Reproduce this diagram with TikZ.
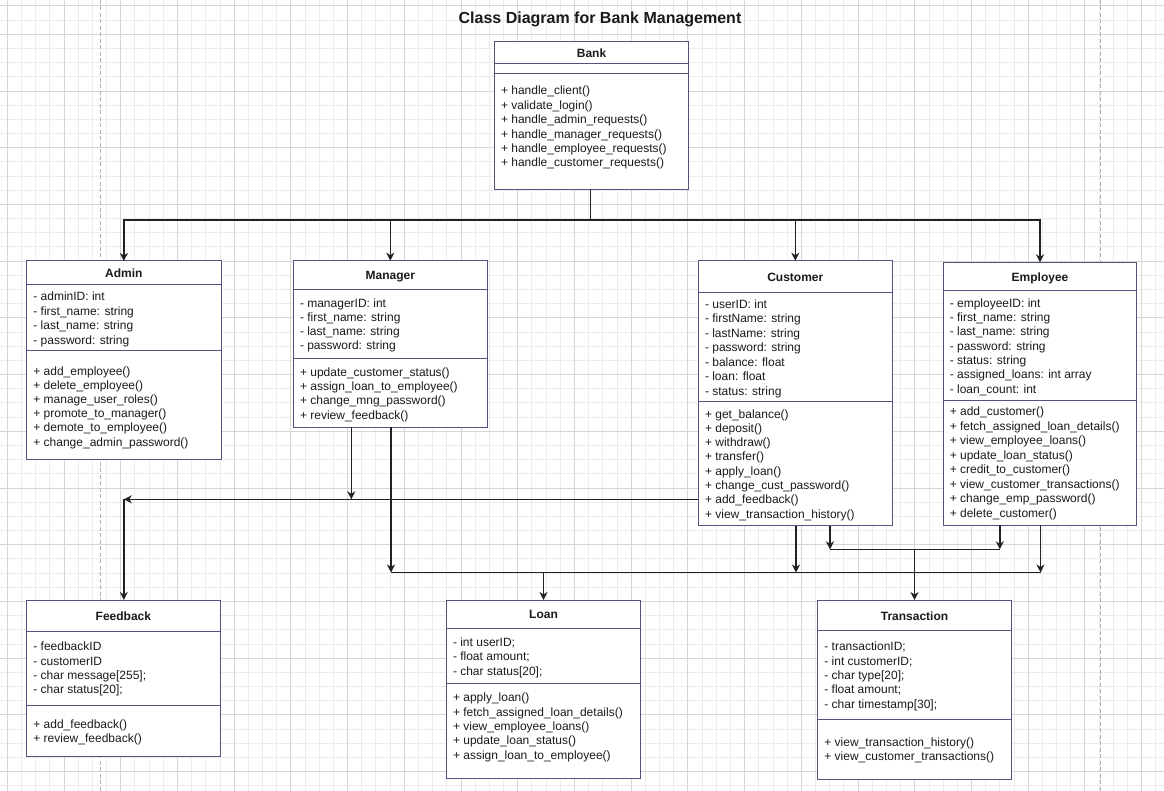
\documentclass[tikz,border=0pt]{standalone}
\usepackage{fontspec}
\setmainfont{Liberation Sans}
\usetikzlibrary{arrows.meta}
\definecolor{gridminor}{RGB}{236,236,236}
\definecolor{gridmajor}{RGB}{214,214,214}
\definecolor{pagedash}{RGB}{178,178,178}
\definecolor{clsborder}{RGB}{86,81,126}
\definecolor{txtcol}{RGB}{26,26,26}
\definecolor{conncol}{RGB}{34,34,34}
\tikzset{
  cls/.style={draw=clsborder, line width=1pt, fill=white, anchor=north west, inner sep=0pt, outer sep=0pt},
  clsline/.style={draw=clsborder, line width=1pt},
  txt/.style={anchor=base west, inner sep=0pt, text=txtcol, font=\fontsize{12pt}{14.4pt}\selectfont},
  ttl/.style={anchor=base, inner sep=0pt, text=txtcol, font=\fontsize{12pt}{14.4pt}\selectfont\bfseries},
  conn/.style={draw=conncol, line width=1.5pt, -{Stealth[length=8pt,width=8pt,inset=2.5pt]}},
  bus/.style={draw=conncol, line width=1.5pt},
}
\newcommand\clslines[5]{%
  \foreach \t [count=\i] in {#5} {\node[txt] (#1\i) at (#2,{#3+(\i-1)*#4}) {\t};}}
\begin{document}
\begin{tikzpicture}[x=1pt,y=-1pt]
\useasboundingbox (0,0) rectangle (1164,791);
\fill[white] (0,0) rectangle (1164,791);
% grid
\foreach \k in {0,...,81} \draw[gridminor, line width=1pt] ({7.3+\k*14.18},0) -- ({7.3+\k*14.18},791);
\foreach \k in {-2,...,53} \draw[gridminor, line width=1pt] (0,{34.3+\k*14.18}) -- (1164,{34.3+\k*14.18});
\foreach \k in {0,...,20} \draw[gridmajor, line width=1pt] ({7.3+\k*56.72},0) -- ({7.3+\k*56.72},791);
\foreach \k in {0,...,13} \draw[gridmajor, line width=1pt] (0,{34.3+\k*56.72}) -- (1164,{34.3+\k*56.72});
\draw[gridmajor, line width=1pt] (0,5.9) -- (1164,5.9);
\draw[pagedash, line width=1pt, dash pattern=on 4pt off 2.5pt] (100.3,0) -- (100.3,791);
\draw[pagedash, line width=1pt, dash pattern=on 4pt off 2.5pt] (1100.5,0) -- (1100.5,791);

% title
\node[anchor=base, inner sep=0pt, text=txtcol, font=\fontsize{16pt}{19pt}\selectfont\bfseries] (title) at (600,24) {Class Diagram for Bank Management};

% ---------- Bank
\node[cls, minimum width=194.4pt, minimum height=148pt] (bank) at (494.3,41.3) {};
\draw[clsline] (bank.west |- 0,64) -- (bank.east |- 0,64);
\draw[clsline] (bank.west |- 0,73.3) -- (bank.east |- 0,73.3);
\node[ttl] (bankT) at (bank.north |- 0,57.6) {Bank};
\clslines{bankM}{500.8}{95}{14.35}{{+ handle\_client()},{+ validate\_login()},{+ handle\_admin\_requests()},{+ handle\_manager\_requests()},{+ handle\_employee\_requests()},{+ handle\_customer\_requests()}}

% ---------- Admin
\node[cls, minimum width=194.3pt, minimum height=198.3pt] (admin) at (26.7,261) {};
\draw[clsline] (admin.west |- 0,284.3) -- (admin.east |- 0,284.3);
\draw[clsline] (admin.west |- 0,351) -- (admin.east |- 0,351);
\node[ttl] (adminT) at (admin.north |- 0,277.6) {Admin};
\clslines{adminA}{33.2}{300.7}{14.5}{{- adminID: int},{- first\_name: string},{- last\_name: string},{- password: string}}
\clslines{adminM}{33.2}{375}{14.2}{{+ add\_employee()},{+ delete\_employee()},{+ manage\_user\_roles()},{+ promote\_to\_manager()},{+ demote\_to\_employee()},{+ change\_admin\_password()}}

% ---------- Manager
\node[cls, minimum width=194pt, minimum height=166.6pt] (manager) at (293.3,260.7) {};
\draw[clsline] (manager.west |- 0,289.3) -- (manager.east |- 0,289.3);
\draw[clsline] (manager.west |- 0,358.3) -- (manager.east |- 0,358.3);
\node[ttl] (managerT) at (manager.north |- 0,280) {Manager};
\clslines{managerA}{299.8}{307.7}{14.1}{{- managerID: int},{- first\_name: string},{- last\_name: string},{- password: string}}
\clslines{managerM}{299.8}{376.3}{14.33}{{+ update\_customer\_status()},{+ assign\_loan\_to\_employee()},{+ change\_mng\_password()},{+ review\_feedback()}}

% ---------- Customer
\node[cls, minimum width=194pt, minimum height=265pt] (customer) at (698.3,260.7) {};
\draw[clsline] (customer.west |- 0,292.3) -- (customer.east |- 0,292.3);
\draw[clsline] (customer.west |- 0,401.7) -- (customer.east |- 0,401.7);
\node[ttl] (customerT) at (customer.north |- 0,282) {Customer};
\clslines{customerA}{704.8}{308.3}{14.45}{{- userID: int},{- firstName: string},{- lastName: string},{- password: string},{- balance: float},{- loan: float},{- status: string}}
\clslines{customerM}{704.8}{418}{14.29}{{+ get\_balance()},{+ deposit()},{+ withdraw()},{+ transfer()},{+ apply\_loan()},{+ change\_cust\_password()},{+ add\_feedback()},{+ view\_transaction\_history()}}

% ---------- Employee
\node[cls, minimum width=193.4pt, minimum height=262.7pt] (employee) at (943.3,262.3) {};
\draw[clsline] (employee.west |- 0,291) -- (employee.east |- 0,291);
\draw[clsline] (employee.west |- 0,400.3) -- (employee.east |- 0,400.3);
\node[ttl] (employeeT) at (employee.north |- 0,281.6) {Employee};
\clslines{employeeA}{949.6}{307.3}{14.33}{{- employeeID: int},{- first\_name: string},{- last\_name: string},{- password: string},{- status: string},{- assigned\_loans: int array},{- loan\_count: int}}
\clslines{employeeM}{949.6}{415.7}{14.51}{{+ add\_customer()},{+ fetch\_assigned\_loan\_details()},{+ view\_employee\_loans()},{+ update\_loan\_status()},{+ credit\_to\_customer()},{+ view\_customer\_transactions()},{+ change\_emp\_password()},{+ delete\_customer()}}

% ---------- Feedback
\node[cls, minimum width=193.3pt, minimum height=156pt] (feedback) at (26.7,600) {};
\draw[clsline] (feedback.west |- 0,631.3) -- (feedback.east |- 0,631.3);
\draw[clsline] (feedback.west |- 0,705) -- (feedback.east |- 0,705);
\node[ttl] (feedbackT) at (feedback.north |- 0,620.3) {Feedback};
\clslines{feedbackA}{33.2}{650.7}{14.43}{{- feedbackID},{- customerID},{- char message[255];},{- char status[20];}}
\clslines{feedbackM}{33.2}{728.7}{13.6}{{+ add\_feedback()},{+ review\_feedback()}}

% ---------- Loan
\node[cls, minimum width=193.6pt, minimum height=178.3pt] (loan) at (446.7,600) {};
\draw[clsline] (loan.west |- 0,628.3) -- (loan.east |- 0,628.3);
\draw[clsline] (loan.west |- 0,683.3) -- (loan.east |- 0,683.3);
\node[ttl] (loanT) at (loan.north |- 0,618.6) {Loan};
\clslines{loanA}{452.8}{646.7}{14.15}{{- int userID;},{- float amount;},{- char status[20];}}
\clslines{loanM}{452.8}{701.7}{14.33}{{+ apply\_loan()},{+ fetch\_assigned\_loan\_details()},{+ view\_employee\_loans()},{+ update\_loan\_status()},{+ assign\_loan\_to\_employee()}}

% ---------- Transaction
\node[cls, minimum width=193.6pt, minimum height=179pt] (transaction) at (817.7,600) {};
\draw[clsline] (transaction.west |- 0,630.7) -- (transaction.east |- 0,630.7);
\draw[clsline] (transaction.west |- 0,719.3) -- (transaction.east |- 0,719.3);
\node[ttl] (transactionT) at (transaction.north |- 0,620.3) {Transaction};
\clslines{transactionA}{824.2}{650.7}{14.4}{{- transactionID;},{- int customerID;},{- char type[20];},{- float amount;},{- char timestamp[30];}}
\clslines{transactionM}{824.2}{746.7}{14}{{+ view\_transaction\_history()},{+ view\_customer\_transactions()}}

% ---------- connectors: Bank to roles
\coordinate (bankbus) at (590.3,220);
\draw[bus] (bank.south -| bankbus) -- (bankbus);
\draw[conn] (bankbus) -| (admin.north);
\draw[conn] (bankbus) -| (manager.north);
\draw[conn] (bankbus) -| (customer.north);
\draw[conn] (bankbus) -| (employee.north);

% ---------- to Feedback
\coordinate (fbc) at (123.8,499.3);
\coordinate (mfb) at (351.3,499.3);
\draw[conn] (customer.west |- fbc) -- (fbc);
\draw[conn] (fbc) -- (feedback.north -| fbc);
\draw[conn] (manager.south -| mfb) -- (mfb);

% ---------- to Loan (lower bus)
\coordinate (busL) at (391,572.5);
\coordinate (busC) at (796,572.5);
\coordinate (busR) at (1040.5,572.5);
\draw[bus] (busL) -- (busR);
\draw[conn] (manager.south -| busL) -- (busL);
\draw[conn] (customer.south -| busC) -- (busC);
\draw[conn] (employee.south -| busR) -- (busR);
\draw[conn] (loan.north |- busL) -- (loan.north);

% ---------- to Transaction (upper bus)
\coordinate (ubL) at (830,549.3);
\coordinate (ubR) at (999.8,549.3);
\draw[bus] (ubL) -- (ubR);
\draw[conn] (customer.south -| ubL) -- (ubL);
\draw[conn] (employee.south -| ubR) -- (ubR);
\draw[conn] (transaction.north |- ubL) -- (transaction.north);
\end{tikzpicture}
\end{document}
